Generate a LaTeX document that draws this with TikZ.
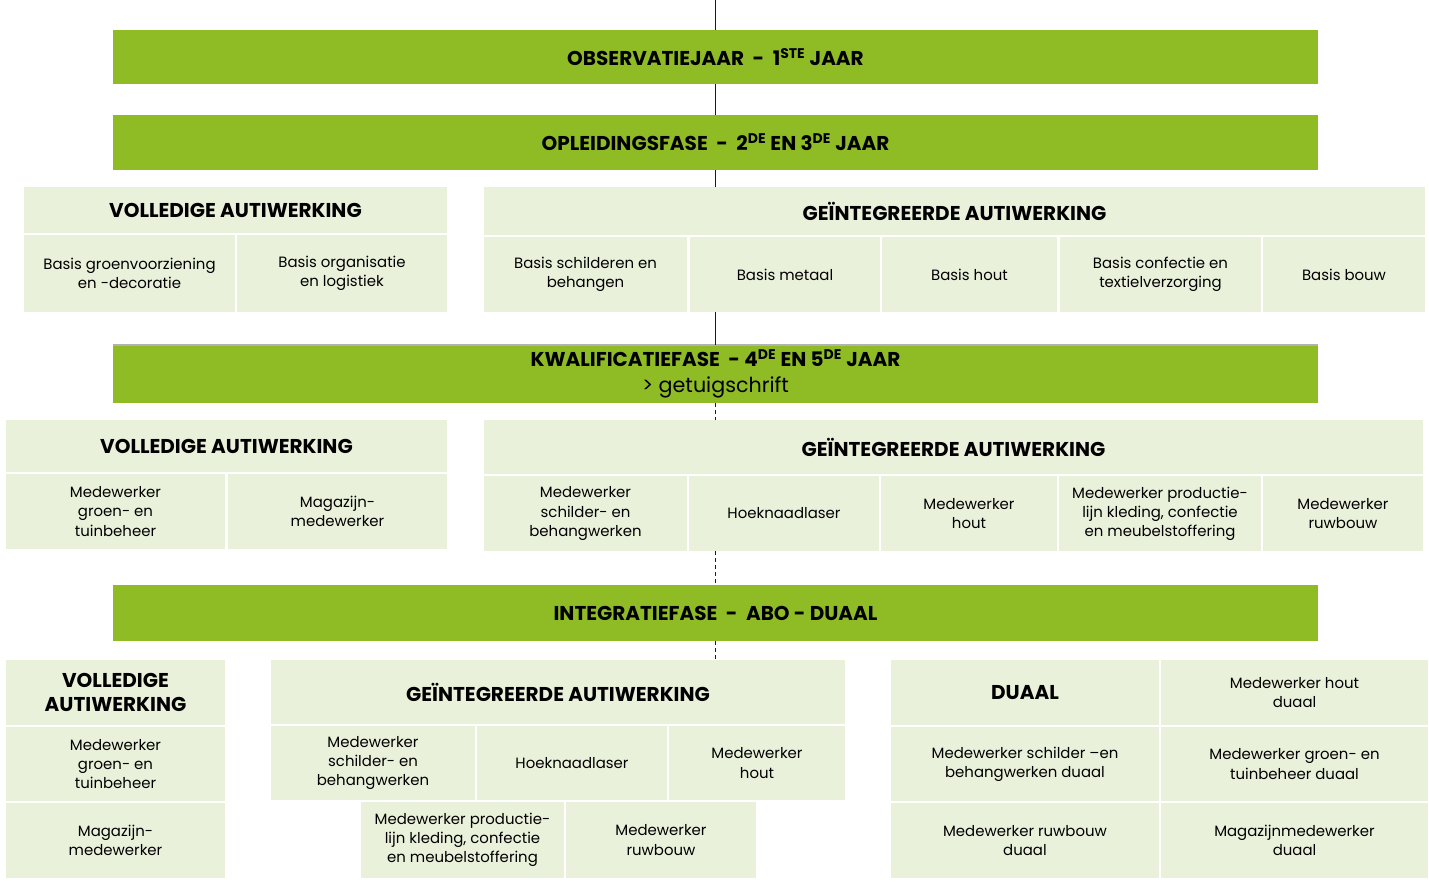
\documentclass[tikz,border=0pt]{standalone}
\usepackage{fontspec}
\setmainfont{Poppins}
\definecolor{balkgroen}{HTML}{8FBC24}
\definecolor{vakgroen}{HTML}{EAF1DB}
\definecolor{lijnkleur}{HTML}{1A1A1A}

\begin{document}
\begin{tikzpicture}[x=0.75pt, y=-0.75pt,
    fase/.style={fill=balkgroen, inner sep=0pt, minimum width=903.75pt, minimum height=#1*0.75pt, align=center, font=\fontsize{15}{17}\selectfont\bfseries},
    kop/.style 2 args={fill=vakgroen, inner sep=0pt, minimum width=#1*0.75pt, minimum height=#2*0.75pt, align=center, font=\fontsize{15}{18.5}\selectfont\bfseries},
    cel/.style 2 args={fill=vakgroen, inner sep=0pt, minimum width=#1*0.75pt, minimum height=#2*0.75pt, align=center, font=\fontsize{11.2}{14.3}\selectfont},
    verbinding/.style={line width=1.1pt, lijnkleur},
    stippel/.style={verbinding, dash pattern=on 3pt off 2.2pt}]
    \useasboundingbox (0,0) rectangle (1429,883);

    \coordinate (top) at (715.5,0);
    \node[fase=54] (obs) at (715.5,57) {OBSERVATIEJAAR ~-~ 1\textsuperscript{STE} JAAR};
    \node[fase=55] (opl) at (715.5,142.5) {OPLEIDINGSFASE ~-~ 2\textsuperscript{DE} EN 3\textsuperscript{DE} JAAR};

    % opleidingsfase
    \node[kop={423}{46}] (vol1) at (235.5,210) {VOLLEDIGE AUTIWERKING};
    \node[cel={211}{77}] (groen1) at (129.5,273.5) {Basis groenvoorziening\\en -decoratie};
    \node[cel={210}{77}] (logi1) at (342,273.5) {Basis organisatie\\en logistiek};
    \node[kop={941}{48}] (gei1) at (954.5,211) {GEÏNTEGREERDE AUTIWERKING};
    \node[cel={203}{75}] (schil1) at (585.5,274.5) {Basis schilderen en\\behangen};
    \node[cel={190}{75}] (metaal1) at (785,274.5) {Basis metaal};
    \node[cel={175}{75}] (hout1) at (969.5,274.5) {Basis hout};
    \node[cel={201}{75}] (confectie1) at (1160.5,274.5) {Basis confectie en\\textielverzorging};
    \node[cel={162}{75}] (bouw1) at (1344,274.5) {Basis bouw};

    % kwalificatiefase
    \node[fase=58] (kwal) at (715.5,374) {KWALIFICATIEFASE ~- 4\textsuperscript{DE} EN 5\textsuperscript{DE} JAAR\\[2pt]{\mdseries\fontsize{15.5}{16}\selectfont > getuigschrift}};
    \node[kop={441}{52}] (vol2) at (226.5,446) {VOLLEDIGE AUTIWERKING};
    \node[cel={219}{75}] (groen2) at (115.5,511.5) {Medewerker\\groen- en\\tuinbeheer};
    \node[cel={219}{75}] (magazijn2) at (337.5,511.5) {Magazijn-\\medewerker};
    \node[kop={939}{54}] (gei2) at (953.5,447) {GEÏNTEGREERDE AUTIWERKING};
    \node[cel={203}{75}] (schil2) at (585.5,513.5) {Medewerker\\schilder- en\\behangwerken};
    \node[cel={190}{75}] (hoek2) at (784,513.5) {Hoeknaadlaser};
    \node[cel={176}{75}] (hout2) at (969,513.5) {Medewerker\\hout};
    \node[cel={202}{75}] (confectie2) at (1160,513.5) {Medewerker productie-\\lijn kleding, confectie\\en meubelstoffering};
    \node[cel={160}{75}] (bouw2) at (1343,513.5) {Medewerker\\ruwbouw};

    % integratiefase
    \node[fase=56] (integ) at (715.5,613) {INTEGRATIEFASE ~-~ ABO - DUAAL};
    \node[kop={219}{65}] (vol3) at (115.5,692.5) {VOLLEDIGE\\AUTIWERKING};
    \node[cel={219}{74}] (groen3) at (115.5,764) {Medewerker\\groen- en\\tuinbeheer};
    \node[cel={219}{75}] (magazijn3) at (115.5,840.5) {Magazijn-\\medewerker};
    \node[kop={574}{64}] (gei3) at (558,692) {GEÏNTEGREERDE AUTIWERKING};
    \node[cel={204}{74}] (schil3) at (373,763) {Medewerker\\schilder- en\\behangwerken};
    \node[cel={190}{74}] (hoek3) at (572,763) {Hoeknaadlaser};
    \node[cel={176}{74}] (hout3) at (757,763) {Medewerker\\hout};
    \node[cel={203}{76}] (confectie3) at (462.5,840) {Medewerker productie-\\lijn kleding, confectie\\en meubelstoffering};
    \node[cel={190}{76}] (bouw3) at (661,840) {Medewerker\\ruwbouw};
    \node[kop={268}{65}] (duaal) at (1025,692.5) {DUAAL};
    \node[cel={267}{65}] (houtd) at (1294.5,692.5) {Medewerker hout\\duaal};
    \node[cel={268}{74}] (schild) at (1025,764) {Medewerker schilder –en\\behangwerken duaal};
    \node[cel={267}{74}] (groend) at (1294.5,764) {Medewerker groen- en\\tuinbeheer duaal};
    \node[cel={268}{75}] (bouwd) at (1025,840.5) {Medewerker ruwbouw\\duaal};
    \node[cel={267}{75}] (magazijnd) at (1294.5,840.5) {Magazijnmedewerker\\duaal};

    \draw[gray!60, line width=1.5pt] (kwal.north west) -- (kwal.north east);

    \path[verbinding]
        (top) edge (obs)
        (obs) edge (opl)
        (opl) edge (opl.south |- gei1.north)
        (kwal.north |- metaal1.south) edge (kwal)
        ;
    \path[stippel]
        (kwal) edge (kwal.south |- gei2.north)
        (integ.north |- hoek2.south) edge (integ)
        (integ) edge (integ.south |- gei3.north)
        ;
\end{tikzpicture}
\end{document}
